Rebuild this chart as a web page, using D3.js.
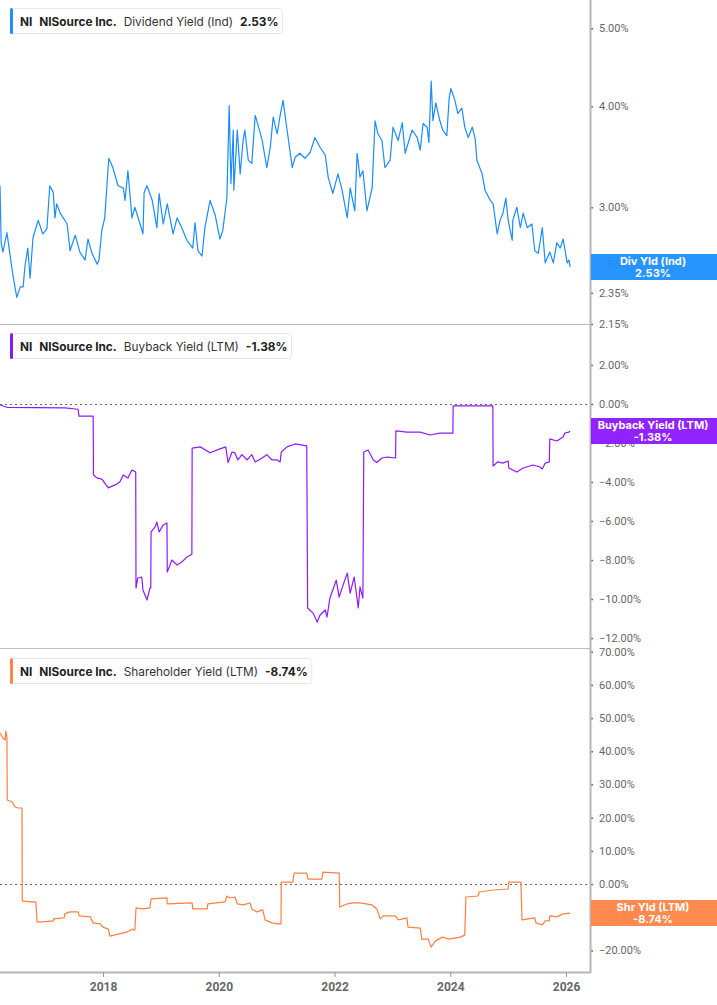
<!DOCTYPE html>
<html><head><meta charset="utf-8">
<script src="https://cdn.jsdelivr.net/npm/d3@7"></script>
<style>
html,body{margin:0;padding:0;background:#fff;}
svg{display:block;font-family:Inter, Roboto, "Noto Sans", sans-serif;}
</style></head><body>
<svg id="chart" width="717" height="1005"></svg>
<script>
// ---------- DATA (decimal years, percent) ----------
const divDates = [2016.22,2016.24,2016.27,2016.34,2016.39,2016.44,2016.51,2016.57,2016.62,2016.65,2016.70,2016.74,2016.79,2016.88,2016.96,2017.03,2017.08,2017.14,2017.17,2017.20,2017.26,2017.38,2017.43,2017.52,2017.60,2017.69,2017.74,2017.81,2017.90,2017.93,2017.98,2018.03,2018.07,2018.10,2018.17,2018.26,2018.35,2018.38,2018.43,2018.50,2018.55,2018.64,2018.69,2018.71,2018.76,2018.85,2018.93,2018.97,2019.04,2019.11,2019.21,2019.28,2019.36,2019.45,2019.55,2019.59,2019.64,2019.71,2019.76,2019.85,2019.94,2020.02,2020.07,2020.14,2020.18,2020.21,2020.25,2020.26,2020.32,2020.37,2020.42,2020.45,2020.51,2020.57,2020.63,2020.68,2020.75,2020.83,2020.89,2020.94,2021.01,2021.06,2021.11,2021.18,2021.27,2021.32,2021.40,2021.49,2021.58,2021.66,2021.75,2021.84,2021.89,2021.97,2022.06,2022.13,2022.22,2022.27,2022.35,2022.39,2022.44,2022.49,2022.56,2022.65,2022.70,2022.75,2022.82,2022.87,2022.96,2023.01,2023.10,2023.17,2023.22,2023.34,2023.43,2023.48,2023.53,2023.60,2023.63,2023.67,2023.70,2023.75,2023.82,2023.87,2023.94,2023.98,2024.01,2024.08,2024.13,2024.20,2024.25,2024.31,2024.38,2024.43,2024.46,2024.55,2024.60,2024.69,2024.74,2024.81,2024.86,2024.91,2024.96,2025.00,2025.07,2025.08,2025.15,2025.21,2025.26,2025.33,2025.41,2025.46,2025.52,2025.59,2025.64,2025.72,2025.78,2025.84,2025.90,2025.95,2026.02,2026.05,2026.07];
const divYield = [3.19,2.71,2.64,2.79,2.63,2.48,2.32,2.39,2.39,2.53,2.67,2.45,2.75,2.89,2.78,2.82,3.19,3.13,2.91,3.03,2.95,2.86,2.65,2.77,2.64,2.58,2.74,2.63,2.55,2.58,2.81,2.91,3.21,3.45,3.36,3.19,3.17,3.06,3.33,2.91,3.00,2.86,2.78,3.13,3.19,3.06,2.83,3.12,2.86,3.03,2.78,2.91,2.83,2.73,2.67,2.87,2.65,2.61,2.83,3.06,2.93,2.74,2.81,3.08,4.01,3.21,3.74,3.15,3.74,3.30,3.63,3.74,3.43,3.40,3.90,3.79,3.63,3.36,3.56,3.88,3.70,3.90,4.07,3.74,3.36,3.46,3.50,3.45,3.51,3.66,3.56,3.48,3.27,3.12,3.30,3.15,2.91,3.17,2.97,3.50,3.27,3.33,2.97,3.17,3.84,3.70,3.63,3.36,3.43,3.77,3.63,3.82,3.50,3.74,3.66,3.53,3.81,3.77,3.61,4.30,3.84,4.04,3.84,3.74,3.68,4.09,4.21,4.07,3.92,3.98,3.77,3.66,3.77,3.65,3.43,3.30,3.15,3.06,3.03,2.78,2.89,2.95,3.08,2.89,2.73,2.89,3.00,2.83,2.95,2.83,2.86,2.65,2.63,2.83,2.56,2.64,2.56,2.71,2.67,2.74,2.56,2.58,2.53];

const buyDates = [2016.22,2016.34,2017.34,2017.57,2017.585,2017.83,2017.835,2017.90,2017.98,2018.09,2018.21,2018.29,2018.35,2018.43,2018.50,2018.565,2018.57,2018.60,2018.67,2018.69,2018.76,2018.81,2018.825,2018.83,2018.90,2018.93,2018.97,2019.04,2019.105,2019.11,2019.19,2019.28,2019.36,2019.45,2019.535,2019.54,2019.68,2019.85,2020.02,2020.12,2020.16,2020.23,2020.28,2020.33,2020.40,2020.49,2020.57,2020.63,2020.75,2020.83,2020.92,2021.01,2021.06,2021.08,2021.18,2021.32,2021.52,2021.535,2021.63,2021.70,2021.75,2021.84,2021.87,2021.92,2021.97,2022.03,2022.08,2022.13,2022.22,2022.27,2022.34,2022.41,2022.44,2022.49,2022.505,2022.58,2022.67,2022.73,2022.82,2022.91,2023.055,2023.06,2023.25,2023.48,2023.65,2023.82,2024.045,2024.05,2024.735,2024.74,2024.82,2024.91,2025.00,2025.01,2025.15,2025.26,2025.43,2025.55,2025.59,2025.64,2025.71,2025.72,2025.84,2025.95,2025.98,2026.05,2026.07];
const buyYield = [-0.05,-0.17,-0.20,-0.27,-0.62,-0.62,-3.64,-3.80,-3.85,-4.30,-4.15,-4.00,-3.64,-3.80,-3.38,-3.49,-9.44,-8.92,-8.87,-9.54,-10.05,-9.44,-9.44,-6.56,-6.30,-6.05,-6.56,-6.20,-6.10,-8.62,-8.00,-8.26,-8.10,-7.85,-7.70,-2.26,-2.20,-2.50,-2.30,-2.20,-3.00,-2.46,-2.51,-2.87,-2.60,-2.87,-2.60,-2.97,-2.77,-2.60,-2.87,-2.87,-2.97,-2.46,-2.20,-2.05,-2.15,-10.46,-10.72,-11.18,-10.82,-10.56,-10.92,-9.95,-9.54,-9.03,-9.90,-9.44,-8.67,-9.70,-8.87,-10.46,-9.38,-9.95,-2.46,-2.36,-2.87,-3.00,-2.77,-2.72,-2.77,-1.38,-1.44,-1.44,-1.59,-1.49,-1.49,-0.10,-0.10,-3.18,-2.97,-3.03,-2.92,-3.28,-3.49,-3.28,-3.13,-3.23,-3.33,-3.03,-2.97,-1.79,-1.90,-1.69,-1.49,-1.44,-1.38];

const shrDates = [2016.22,2016.27,2016.31,2016.32,2016.34,2016.345,2016.43,2016.48,2016.53,2016.60,2016.605,2016.74,2016.84,2016.86,2016.96,2017.14,2017.15,2017.33,2017.34,2017.43,2017.57,2017.59,2017.78,2017.83,2017.95,2018.00,2018.09,2018.12,2018.26,2018.41,2018.50,2018.55,2018.57,2018.69,2018.81,2018.83,2019.105,2019.11,2019.54,2019.55,2019.80,2019.81,2020.11,2020.14,2020.19,2020.28,2020.32,2020.42,2020.54,2020.57,2020.66,2020.76,2020.80,2020.92,2021.02,2021.075,2021.08,2021.28,2021.30,2021.52,2021.54,2021.78,2021.80,2022.08,2022.09,2022.22,2022.32,2022.44,2022.65,2022.73,2022.79,2022.84,2023.05,2023.10,2023.25,2023.27,2023.48,2023.51,2023.62,2023.67,2023.74,2023.86,2023.98,2024.17,2024.25,2024.27,2024.48,2024.50,2024.74,2025.00,2025.01,2025.22,2025.24,2025.46,2025.48,2025.59,2025.64,2025.71,2025.72,2025.84,2025.95,2026.07];
const shrYield = [45.5,44.0,43.4,46.1,44.3,25.3,24.7,23.2,22.9,22.9,-5.1,-5.4,-5.4,-11.4,-11.4,-11.1,-10.5,-10.2,-9.0,-8.4,-8.4,-9.6,-9.9,-11.7,-12.0,-13.0,-13.6,-15.7,-15.1,-14.5,-13.6,-13.9,-7.2,-7.5,-7.2,-4.5,-4.2,-6.0,-5.7,-7.5,-7.5,-6.0,-5.4,-3.6,-4.2,-3.9,-6.0,-6.3,-5.7,-7.5,-8.4,-7.8,-10.8,-11.7,-12.0,-12.0,0.6,0.6,3.3,3.3,1.5,1.5,3.6,3.3,-6.9,-6.0,-5.7,-5.7,-6.3,-7.5,-10.5,-9.6,-9.6,-10.8,-10.2,-13.0,-13.3,-16.6,-16.6,-19.0,-17.2,-16.0,-16.6,-16.0,-15.4,-3.9,-3.6,-2.4,-1.8,-1.5,0.6,0.6,-10.8,-10.2,-11.7,-12.3,-11.1,-11.1,-9.6,-9.9,-9.0,-8.74];

const yearTicks = [2018, 2020, 2022, 2024, 2026];
const divTicks = [5.00, 4.00, 3.00, 2.55, 2.35, 2.15];
const buyTicks = [2, 0, -2, -4, -6, -8, -10, -12];
const shrTicks = [70, 60, 50, 40, 30, 20, 10, 0, -10, -20];

const legendTicker = "NI";
const legendCompany = "NISource Inc.";
const seriesNames = ["Dividend Yield (Ind)", "Buyback Yield (LTM)", "Shareholder Yield (LTM)"];
const tagNames = ["Div Yld (Ind)", "Buyback Yield (LTM)", "Shr Yld (LTM)"];
const lastValues = ["2.53%", "-1.38%", "-8.74%"];

// ---------- LAYOUT ----------
const svg = d3.select("#chart");
const plotRight = 590;
const panels = [
  {top: 0, bottom: 324},
  {top: 324, bottom: 648},
  {top: 649, bottom: 972}
];
const colors = ["#1a8cff", "#8c1aff", "#ff7f3f"];
const tagColors = ["#1e90ff", "#8c1aff", "#ff8548"];

const x = d3.scaleLinear().domain([2016.22, 2026.414]).range([0, plotRight]);
const yDiv = d3.scaleLog().domain([2.15, 5.42]).range([panels[0].bottom, panels[0].top]);
const yBuy = d3.scaleLinear().domain([-12.51, 4.1]).range([panels[1].bottom, panels[1].top]);
const yShr = d3.scaleLinear().domain([-26.5, 70.8]).range([panels[2].bottom, panels[2].top]);
const yScales = [yDiv, yBuy, yShr];
const tickSets = [divTicks, buyTicks, shrTicks];
const seriesData = [
  divDates.map((d,i)=>[d, divYield[i]]),
  buyDates.map((d,i)=>[d, buyYield[i]]),
  shrDates.map((d,i)=>[d, shrYield[i]])
];

// separators
svg.append("line").attr("x1",0).attr("x2",plotRight).attr("y1",324.5).attr("y2",324.5)
  .attr("stroke","#bdbdbd").attr("stroke-width",1);
svg.append("line").attr("x1",0).attr("x2",plotRight).attr("y1",648.5).attr("y2",648.5)
  .attr("stroke","#bdbdbd").attr("stroke-width",1);

// zero lines
[yBuy, yShr].forEach(ys=>{
  svg.append("line").attr("x1",0).attr("x2",plotRight)
    .attr("y1",Math.round(ys(0))+0.5).attr("y2",Math.round(ys(0))+0.5)
    .attr("stroke","#666").attr("stroke-width",1).attr("stroke-dasharray","2,3");
});

// series lines
seriesData.forEach((data, i)=>{
  const ys = yScales[i];
  const line = d3.line().x(d=>x(d[0])).y(d=>ys(d[1]));
  svg.append("path").datum(data).attr("d", line)
    .attr("fill","none").attr("stroke", colors[i]).attr("stroke-width", 1.2)
    .attr("stroke-linejoin","round");
});

// right axes
panels.forEach((p, i)=>{
  const ys = yScales[i];
  const fmt = v => d3.format(".2f")(v) + "%";
  const ax = d3.axisRight(ys).tickValues(tickSets[i]).tickFormat(fmt).tickSize(3).tickPadding(6);
  const g = svg.append("g").attr("transform", `translate(${plotRight},0)`).call(ax);
  g.select(".domain").remove();
  g.selectAll(".tick line").attr("stroke","#666").attr("stroke-width",1.5);
  g.selectAll(".tick text").attr("fill","#666").style("font-family","Roboto, sans-serif").style("font-size","11px");
});
// vertical axis line
svg.append("line").attr("x1",plotRight+0.5).attr("x2",plotRight+0.5).attr("y1",0).attr("y2",973)
  .attr("stroke","#b5b5b5").attr("stroke-width",2);

// x axis
const xg = svg.append("g").attr("transform","translate(0,972)")
  .call(d3.axisBottom(x).tickValues(yearTicks).tickFormat(d3.format("d")).tickSize(5).tickPadding(5));
xg.select(".domain").attr("stroke","#b5b5b5").attr("stroke-width",2).attr("d", `M0,0.5H${plotRight+1}`);
xg.selectAll(".tick line").attr("stroke","#999");
xg.selectAll(".tick text").attr("fill","#666").style("font-family","Roboto, sans-serif")
  .style("font-size","12px").style("font-weight","bold");

// legends
const legendTops = [8, 333, 658];
legendTops.forEach((top, i)=>{
  const g = svg.append("g");
  const box = g.append("rect").attr("x",10.5).attr("y",top+0.5).attr("height",25).attr("rx",3)
    .attr("fill","#fff").attr("stroke","#e6e6e6");
  g.append("rect").attr("x",10).attr("y",top).attr("width",3).attr("height",26).attr("rx",1.5).attr("fill",tagColors[i]);
  const t = g.append("text").attr("x",20).attr("y",top+17.5).style("font-size","11.8px").attr("fill","#222");
  t.append("tspan").text(legendTicker).style("font-weight","bold");
  t.append("tspan").attr("dx",7).text(legendCompany).style("font-weight","bold");
  t.append("tspan").attr("dx",7).text(seriesNames[i]).attr("fill","#333");
  t.append("tspan").attr("dx",7).text(lastValues[i]).style("font-weight","bold");
  const bb = t.node().getBBox();
  box.attr("width", bb.x + bb.width + 4 - 10.5);
});

// right tags
const tagTops = [254, 418, 900];
tagTops.forEach((top, i)=>{
  const g = svg.append("g");
  g.append("rect").attr("x",591).attr("y",top).attr("width",126).attr("height",26)
    .attr("fill",tagColors[i]).attr("fill-opacity",0.96);
  const cx = 653;
  g.append("text").attr("x",cx).attr("y",top+11).attr("text-anchor","middle")
    .attr("fill","#fff").style("font-size","11px").style("font-weight","bold").text(tagNames[i]);
  g.append("text").attr("x",cx).attr("y",top+23).attr("text-anchor","middle")
    .attr("fill","#fff").style("font-size","11px").style("font-weight","bold").text(lastValues[i]);
});
</script>
</body></html>
